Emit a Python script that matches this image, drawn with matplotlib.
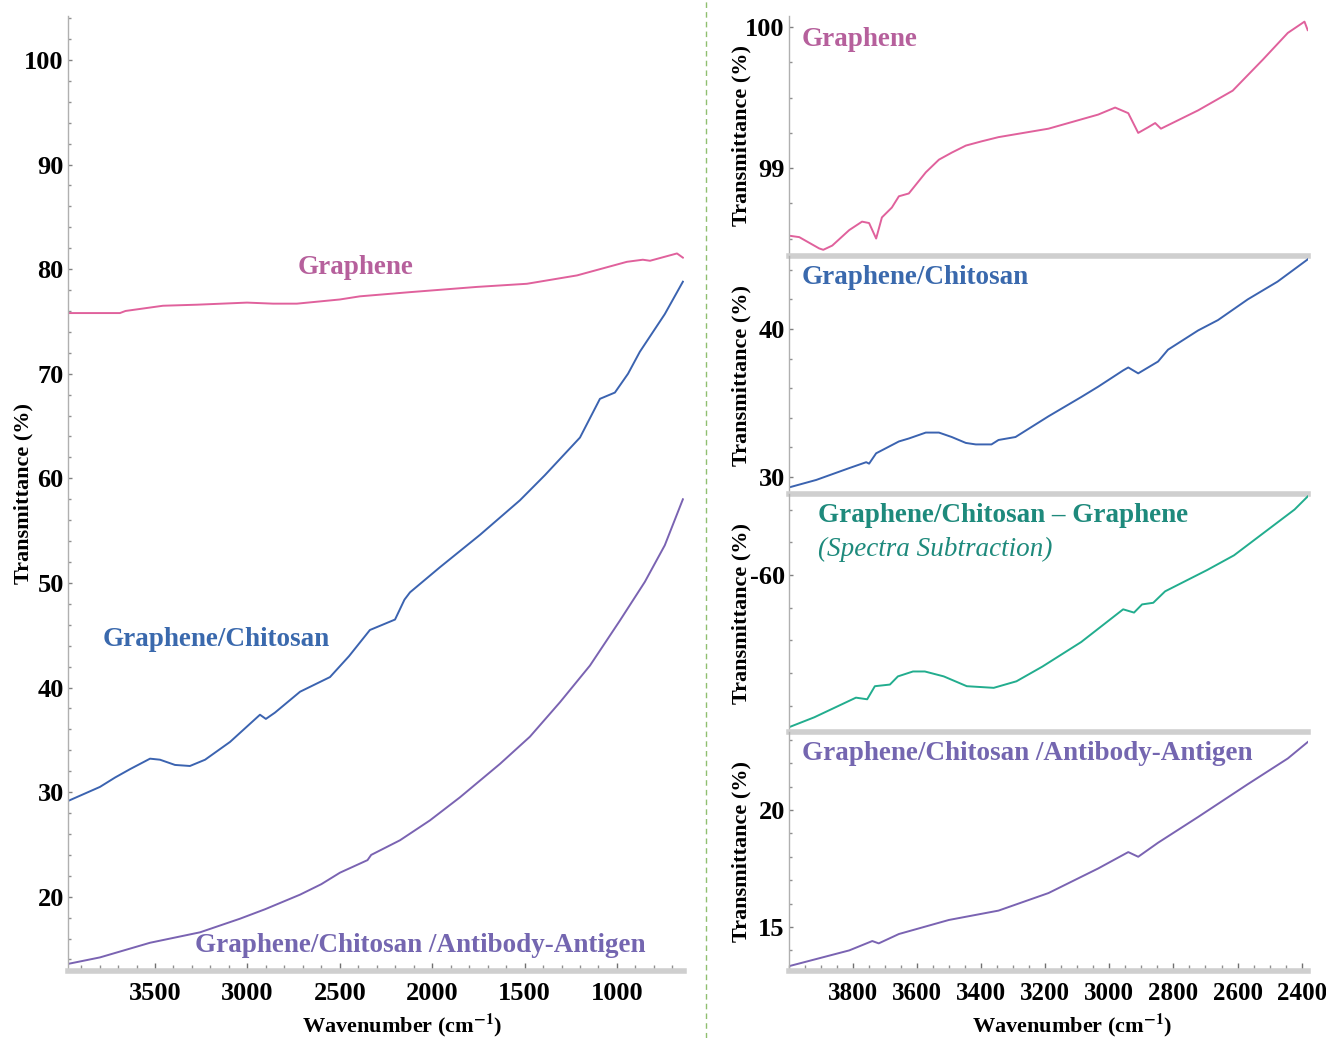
import matplotlib
matplotlib.use('Agg')
import matplotlib.pyplot as plt
from matplotlib.lines import Line2D
from matplotlib.ticker import MultipleLocator

plt.rcParams['font.family'] = ['Liberation Serif', 'DejaVu Serif']
plt.rcParams['font.weight'] = 'bold'
plt.rcParams['axes.labelweight'] = 'bold'
plt.rcParams['mathtext.fontset'] = 'stix'

# --- left panel: full range spectra ---
wn_g = [3965, 3800, 3690, 3660, 3457, 3273, 3002, 2861, 2732, 2499, 2391, 2120,
        1758, 1487, 1216, 946, 860, 821, 675, 643]
t_g = [75.8, 75.8, 75.8, 76.0, 76.5, 76.6, 76.8, 76.7, 76.7, 77.1, 77.4, 77.8,
       78.3, 78.6, 79.4, 80.7, 80.9, 80.8, 81.5, 81.1]

wn_gc = [3965, 3798, 3716, 3635, 3527, 3473, 3392, 3311, 3229, 3094, 2932, 2900,
         2851, 2715, 2553, 2450, 2337, 2201, 2150, 2120, 1958, 1741, 1525, 1390,
         1200, 1092, 1011, 940, 876, 741, 643]
t_gc = [29.2, 30.5, 31.4, 32.2, 33.2, 33.1, 32.6, 32.5, 33.1, 34.8, 37.4, 37.0,
        37.6, 39.6, 41.0, 43.0, 45.5, 46.5, 48.4, 49.1, 51.5, 54.6, 57.9, 60.3,
        63.9, 67.6, 68.2, 70.0, 72.1, 75.7, 78.8]

wn_gca = [3965, 3798, 3527, 3256, 3040, 2905, 2715, 2600, 2499, 2350, 2330, 2174,
          2012, 1850, 1633, 1471, 1308, 1146, 984, 849, 741, 643]
t_gca = [13.6, 14.2, 15.6, 16.6, 17.9, 18.8, 20.2, 21.2, 22.3, 23.5, 24.0, 25.4,
         27.3, 29.5, 32.7, 35.3, 38.6, 42.1, 46.4, 50.1, 53.6, 58.0]

# --- right panels: 4000-2380 region ---
r_wn_g = [3999, 3968, 3906, 3893, 3865, 3812, 3772, 3750, 3728, 3710, 3679, 3657,
          3626, 3573, 3532, 3492, 3448, 3399, 3346, 3190, 3035, 2982, 2941, 2910,
          2879, 2857, 2839, 2723, 2615, 2521, 2443, 2391, 2381]
r_t_g = [98.52, 98.51, 98.43, 98.42, 98.45, 98.56, 98.62, 98.61, 98.50, 98.65,
         98.72, 98.80, 98.82, 98.97, 99.06, 99.11, 99.16, 99.19, 99.22, 99.28,
         99.38, 99.43, 99.39, 99.25, 99.29, 99.32, 99.28, 99.41, 99.55, 99.77,
         99.96, 100.04, 99.98]

r_wn_gc = [3999, 3915, 3812, 3759, 3750, 3728, 3657, 3626, 3573, 3532, 3492, 3448,
           3417, 3368, 3346, 3293, 3190, 3088, 3035, 2957, 2941, 2910, 2879, 2848,
           2817, 2723, 2661, 2568, 2475, 2381]
r_t_gc = [29.3, 29.8, 30.6, 31.0, 30.9, 31.6, 32.4, 32.6, 33.0, 33.0, 32.7, 32.3,
          32.2, 32.2, 32.5, 32.7, 34.1, 35.4, 36.1, 37.2, 37.4, 37.0, 37.4, 37.8,
          38.6, 39.9, 40.6, 42.0, 43.2, 44.7]

r_wn_sub = [3999, 3921, 3791, 3756, 3732, 3685, 3660, 3613, 3576, 3517, 3445, 3361,
            3290, 3209, 3088, 2957, 2923, 2898, 2863, 2826, 2695, 2611, 2422, 2381]
r_t_sub = [-69.3, -68.7, -67.5, -67.6, -66.8, -66.7, -66.2, -65.9, -65.9, -66.2,
           -66.8, -66.9, -66.5, -65.6, -64.1, -62.1, -62.3, -61.8, -61.7, -61.0,
           -59.7, -58.8, -56.0, -55.2]

r_wn_gca = [3999, 3812, 3740, 3720, 3657, 3501, 3346, 3190, 3035, 2941, 2910, 2848,
            2723, 2568, 2443, 2381]
r_t_gca = [13.33, 14.0, 14.4, 14.3, 14.7, 15.3, 15.7, 16.45, 17.5, 18.2, 18.0, 18.6,
           19.7, 21.1, 22.2, 22.9]

c_pink, c_blue, c_teal, c_purple = '#e0619c', '#3b63b0', '#22ad8e', '#7a63b2'
t_pink, t_blue, t_teal, t_purple = '#b6609c', '#3a69ad', '#1e8a7c', '#7466b0'

W, H = 1326, 1038
fig = plt.figure(figsize=(W / 100, H / 100), dpi=100)


def fx(px):
    return px / W


def fy(py):
    return 1 - py / H


def style(ax, xlabels=True, xsize=19):
    for s in ['top', 'right']:
        ax.spines[s].set_visible(False)
    ax.spines['left'].set_color('#b0b0b0')
    ax.spines['left'].set_linewidth(1.0)
    ax.spines['bottom'].set_color('#cfcfcf')
    ax.spines['bottom'].set_linewidth(4)
    ax.tick_params(axis='y', which='major', direction='in', length=3, width=1,
                   color='#808080', labelsize=19, pad=3)
    ax.tick_params(axis='y', which='minor', direction='in', length=2, width=1,
                   color='#909090')
    if xlabels:
        ax.tick_params(axis='x', which='major', direction='in', length=6, width=1,
                       color='#707070', labelsize=xsize, pad=8)
        ax.tick_params(axis='x', which='minor', direction='in', length=4, width=1,
                       color='#909090')
    else:
        ax.tick_params(axis='x', which='both', length=0, labelbottom=False)


# left panel
ax = fig.add_axes([fx(68), fy(971), fx(684 - 68), (971 - 16) / H])
ax.plot(wn_g, t_g, color=c_pink, lw=1.4)
ax.plot(wn_gc, t_gc, color=c_blue, lw=1.4)
ax.plot(wn_gca, t_gca, color=c_purple, lw=1.4)
ax.set_xlim(3971, 637)
ax.set_ylim(12.9, 104.2)
ax.xaxis.set_minor_locator(MultipleLocator(100))
ax.yaxis.set_minor_locator(MultipleLocator(2))
style(ax)
ax.set_yticks([20, 30, 40, 50, 60, 70, 80, 90, 100])
ax.set_xticks([3500, 3000, 2500, 2000, 1500, 1000])
ax.set_xlabel(r'Wavenumber (cm$^{\mathbf{-1}}$)', fontsize=16)
ax.set_ylabel('Transmittance (%)', fontsize=16)
ax.xaxis.set_label_coords((402 - 68) / 616, -(1012 - 971) / 955)
ax.yaxis.set_label_coords((33 - 68) / 616, 0.5)

fig.text(fx(298), fy(267), 'Graphene', color=t_pink, fontsize=19.5, va='center')
fig.text(fx(103), fy(640), 'Graphene/Chitosan', color=t_blue, fontsize=19.5,
         va='center')
fig.text(fx(195), fy(946), 'Graphene/Chitosan /Antibody-Antigen', color=t_purple,
         fontsize=19.5, va='center')

# right panels
panels = [
    (16, 256, r_wn_g, r_t_g, c_pink, (98.376, 100.08), 0.25, [99, 100]),
    (256, 494, r_wn_gc, r_t_gc, c_blue, (28.85, 44.93), 2, [30, 40]),
    (494, 732, r_wn_sub, r_t_sub, c_teal, (-69.6, -55.05), 2, [-60]),
    (732, 971, r_wn_gca, r_t_gca, c_purple, (13.12, 23.33), 1, [15, 20]),
]
for i, (top, bot, xs, ys, col, ylim, mnr, ticks) in enumerate(panels):
    a = fig.add_axes([fx(789), fy(bot), fx(1308 - 789), (bot - top) / H])
    a.plot(xs, ys, color=col, lw=1.4)
    a.set_xlim(4000, 2380)
    a.set_ylim(*ylim)
    a.xaxis.set_minor_locator(MultipleLocator(50))
    a.yaxis.set_minor_locator(MultipleLocator(mnr))
    a.set_yticks(ticks)
    a.set_yticklabels([str(t) for t in ticks])
    a.patch.set_alpha(0)
    style(a, xlabels=(i == 3), xsize=18)
    a.set_ylabel('Transmittance (%)', fontsize=16)
    a.yaxis.set_label_coords((751 - 789) / 519, 0.5)
    if i == 3:
        a.set_xticks([3800, 3600, 3400, 3200, 3000, 2800, 2600, 2400])
        a.set_xlabel(r'Wavenumber (cm$^{\mathbf{-1}}$)', fontsize=16)
        a.xaxis.set_label_coords((1072 - 789) / 519, -(1012 - 971) / 239)

fig.text(fx(802), fy(39), 'Graphene', color=t_pink, fontsize=19.5, va='center')
fig.text(fx(802), fy(277), 'Graphene/Chitosan', color=t_blue, fontsize=19.5,
         va='center')
fig.text(fx(818), fy(516), 'Graphene/Chitosan \u2013 Graphene', color=t_teal,
         fontsize=19.5, va='center')
fig.text(fx(818), fy(549), '(Spectra Subtraction)', color=t_teal, fontsize=19.5,
         fontweight='normal', style='italic', va='center')
fig.text(fx(802), fy(754), 'Graphene/Chitosan /Antibody-Antigen', color=t_purple,
         fontsize=19.5, va='center')

# dashed separator between the two halves
fig.add_artist(Line2D([fx(706), fx(706)], [0, 1], color='#8fbf70', lw=1,
                      ls=(0, (4, 3))))

fig.savefig('out.png', dpi=100)
